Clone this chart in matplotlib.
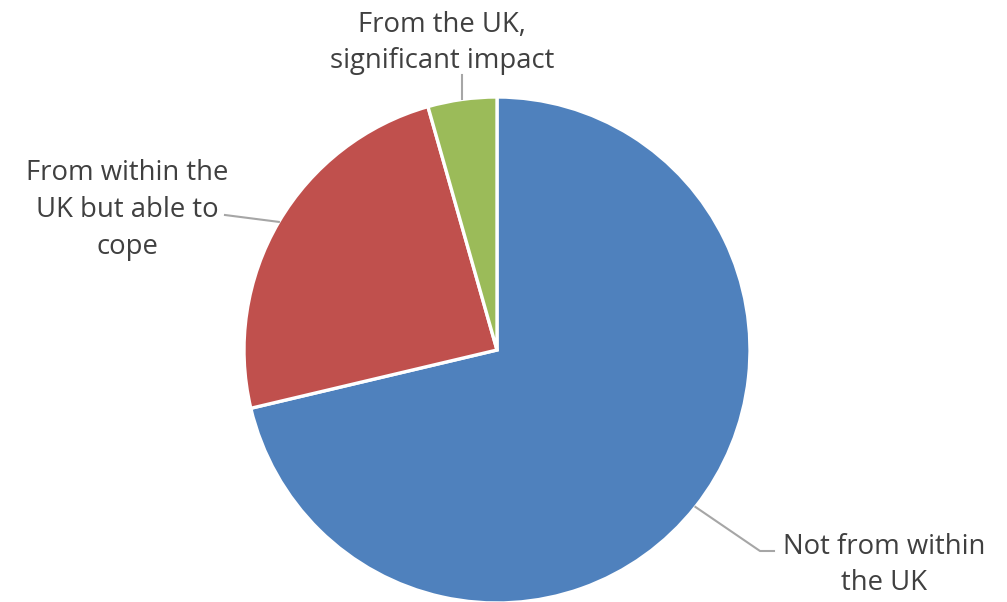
import numpy as np
import matplotlib
matplotlib.use("Agg")
import matplotlib.pyplot as plt

labels = ["Not from within\nthe UK", "From within the\nUK but able to\ncope", "From the UK,\nsignificant impact"]
values = [71.3, 24.3, 4.4]
colors = ["#4F81BD", "#C0504D", "#9BBB59"]

W, H = 1007, 602
fig = plt.figure(figsize=(W / 100, H / 100), dpi=100)
ax = fig.add_axes([0, 0, 1, 1])
ax.set_xlim(0, W)
ax.set_ylim(0, H)
ax.set_aspect("equal")
ax.axis("off")

cx, cy, r = 497, H - 350, 253
wedges, _ = ax.pie(values, colors=colors, startangle=90, counterclock=False,
                   center=(cx, cy), radius=r,
                   wedgeprops=dict(edgecolor="white", linewidth=2.4))
ax.set_xlim(0, W)
ax.set_ylim(0, H)

font = dict(family="Open Sans", fontsize=19.8, color="#404040", linespacing=1.42)
lc = "#A6A6A6"

def edge(w):
    a = np.deg2rad((w.theta1 + w.theta2) / 2)
    return cx + r * np.cos(a), cy + r * np.sin(a)

# blue
x0, y0 = edge(wedges[0])
ax.plot([x0, 760, 774], [y0, H - 551, H - 551], color=lc, lw=1.5)
ax.text(884, H - 565, labels[0], ha="center", va="center", **font)
# red
x0, y0 = edge(wedges[1])
ax.plot([x0, 225], [y0, H - 215], color=lc, lw=1.5)
ax.text(127, H - 210, labels[1], ha="center", va="center", **font)
# green
x0, y0 = edge(wedges[2])
ax.plot([x0, x0], [y0, H - 75], color=lc, lw=1.5)
ax.text(442, H - 43, labels[2], ha="center", va="center", **font)

fig.savefig("out.png", dpi=100)
